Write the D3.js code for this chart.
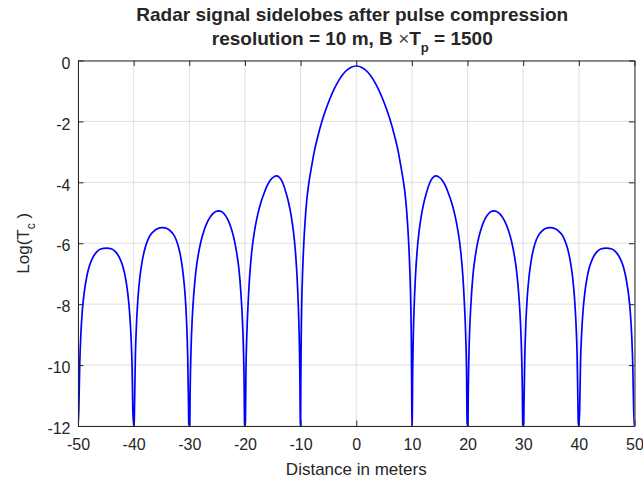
<!DOCTYPE html>
<html lang="en">
	<head>
		<meta charset="utf-8">
		<title>Radar signal sidelobes</title>
		<script src="https://d3js.org/d3.v7.min.js"></script>
		<style type="text/css">
			body {
				margin: 0;
				background: #ffffff;
			}
			text {
				font-family: 'Liberation Sans', Arial, sans-serif;
				fill: #262626;
			}
			.axis path, .axis line {
				stroke: #262626;
			}
			.grid line {
				stroke: #dfdfdf;
				stroke-width: 1;
			}
		</style>
	</head>
	<body>
		<script type="text/javascript">

			//Width and height
			var w = 643;
			var h = 483;
			var plot = {left: 78, right: 634.5, top: 60.5, bottom: 426};

			//tick values
			var xTicks = [-50, -40, -30, -20, -10, 0, 10, 20, 30, 40, 50];
			var yTicks = [-12, -10, -8, -6, -4, -2, 0];

			//distance in meters
			var distance = [
				-50, -49.85, -49.69, -49.49, -49.24, -48.88, -48.47, -47.96, -47.45, -46.94, -46.43, -45.92, -44.9, -43.92, -43.43, -42.94, -42.45, -41.96, -41.47, -41.08, -40.74, -40.49, -40.29, -40.15, -40,
				-39.9, -39.84, -39.69, -39.48, -39.22, -38.86, -38.44, -37.92, -37.4, -36.88, -36.36, -35.84, -34.8, -33.84, -33.36, -32.88, -32.4, -31.92, -31.44, -31.06, -30.72, -30.48, -30.29, -30.14, -30.1, -30,
				-29.92, -29.84, -29.68, -29.47, -29.2, -28.83, -28.41, -27.88, -27.35, -26.82, -26.29, -25.76, -25.23, -24.7, -24.23, -23.76, -23.29, -22.82, -22.35, -21.88, -21.41, -21.03, -20.71, -20.47, -20.28, -20.14, -20.07, -20,
				-19.91, -19.83, -19.66, -19.43, -19.15, -18.75, -18.29, -17.72, -17.15, -16.58, -16.01, -15.44, -14.87, -14.3, -13.87, -13.44, -13.01, -12.58, -12.15, -11.72, -11.29, -10.95, -10.65, -10.43, -10.26, -10.13, -10.06, -10,
				-9.96, -9.9, -9.8, -9.65, -9.45, -9.2, -8.9, -8.5, -8, -7.5, -7, -6, -5, -4, -3, -2, -1,
				0, 1, 2, 3, 4, 5, 6, 7, 7.5, 8, 8.5, 8.9, 9.2, 9.45, 9.65, 9.8, 9.9, 9.96, 10,
				10.06, 10.13, 10.26, 10.43, 10.65, 10.95, 11.29, 11.72, 12.15, 12.58, 13.01, 13.44, 13.87, 14.3, 14.87, 15.44, 16.01, 16.58, 17.15, 17.72, 18.29, 18.75, 19.15, 19.43, 19.66, 19.83, 19.91, 20,
				20.07, 20.14, 20.28, 20.47, 20.71, 21.03, 21.41, 21.88, 22.35, 22.82, 23.29, 23.76, 24.23, 24.7, 25.23, 25.76, 26.29, 26.82, 27.35, 27.88, 28.41, 28.83, 29.2, 29.47, 29.68, 29.84, 29.92, 30,
				30.1, 30.14, 30.29, 30.48, 30.72, 31.06, 31.44, 31.92, 32.4, 32.88, 33.36, 33.84, 34.8, 35.84, 36.36, 36.88, 37.4, 37.92, 38.44, 38.86, 39.22, 39.48, 39.69, 39.84, 39.9, 40,
				40.15, 40.29, 40.49, 40.74, 41.08, 41.47, 41.96, 42.45, 42.94, 43.43, 43.92, 44.9, 45.92, 46.43, 46.94, 47.45, 47.96, 48.47, 48.88, 49.24, 49.49, 49.69, 49.85, 50
			];

			//Log(Tc) at each distance
			var logTc = [
				-12, -11.45, -10.0, -9.0, -8.25, -7.61, -7.14, -6.75, -6.51, -6.35, -6.25, -6.19, -6.16, -6.19, -6.25, -6.35, -6.51, -6.75, -7.14, -7.61, -8.25, -9.0, -10.0, -11.45, -12,
				-11.9, -11.31, -9.71, -8.61, -7.79, -7.08, -6.56, -6.14, -5.87, -5.70, -5.60, -5.53, -5.49, -5.53, -5.60, -5.70, -5.87, -6.14, -6.56, -7.08, -7.79, -8.61, -9.71, -11.31, -11.9, -12,
				-11.95, -10.74, -9.43, -8.46, -7.68, -6.94, -6.40, -5.92, -5.58, -5.33, -5.15, -5.03, -4.96, -4.94, -4.96, -5.03, -5.15, -5.33, -5.58, -5.92, -6.40, -6.94, -7.68, -8.46, -9.43, -10.74, -11.95, -12,
				-11.85, -10.36, -8.99, -7.96, -7.06, -6.23, -5.61, -5.07, -4.67, -4.37, -4.11, -3.93, -3.83, -3.79, -3.83, -3.93, -4.11, -4.37, -4.67, -5.07, -5.61, -6.23, -7.06, -7.96, -8.99, -10.36, -11.85, -12,
				-10.6, -9.2, -8.0, -7.0, -6.1, -5.3, -4.6, -4.0, -3.45, -2.95, -2.56, -1.9, -1.38, -0.95, -0.61, -0.37, -0.23,
				-0.18, -0.23, -0.37, -0.61, -0.95, -1.38, -1.9, -2.56, -2.95, -3.45, -4.0, -4.6, -5.3, -6.1, -7.0, -8.0, -9.2, -10.6, -12,
				-11.85, -10.36, -8.99, -7.96, -7.06, -6.23, -5.61, -5.07, -4.67, -4.37, -4.11, -3.93, -3.83, -3.79, -3.83, -3.93, -4.11, -4.37, -4.67, -5.07, -5.61, -6.23, -7.06, -7.96, -8.99, -10.36, -11.85, -12,
				-11.95, -10.74, -9.43, -8.46, -7.68, -6.94, -6.40, -5.92, -5.58, -5.33, -5.15, -5.03, -4.96, -4.94, -4.96, -5.03, -5.15, -5.33, -5.58, -5.92, -6.40, -6.94, -7.68, -8.46, -9.43, -10.74, -11.95, -12,
				-11.9, -11.31, -9.71, -8.61, -7.79, -7.08, -6.56, -6.14, -5.87, -5.70, -5.60, -5.53, -5.49, -5.53, -5.60, -5.70, -5.87, -6.14, -6.56, -7.08, -7.79, -8.61, -9.71, -11.31, -11.9, -12,
				-11.45, -10.0, -9.0, -8.25, -7.61, -7.14, -6.75, -6.51, -6.35, -6.25, -6.19, -6.16, -6.19, -6.25, -6.35, -6.51, -6.75, -7.14, -7.61, -8.25, -9.0, -10.0, -11.45, -12
			];

			var points = distance.map(function(d, i) {
				return [d, logTc[i]];
			});

			var xScale = d3.scaleLinear()
							.domain([-50, 50])
							.range([plot.left, plot.right]);

			var yScale = d3.scaleLinear()
							.domain([-12, 0])
							.range([plot.bottom, plot.top]);

			//Create SVG element
			var svg = d3.select("body")
						.append("svg")
						.attr("width", w)
						.attr("height", h);

			//grid lines
			var grid = svg.append("g").attr("class", "grid");
			grid.selectAll(".gx")
				.data(xTicks)
				.enter()
				.append("line")
				.attr("x1", function(d) { return xScale(d); })
				.attr("x2", function(d) { return xScale(d); })
				.attr("y1", plot.top)
				.attr("y2", plot.bottom);
			grid.selectAll(".gy")
				.data(yTicks)
				.enter()
				.append("line")
				.attr("x1", plot.left)
				.attr("x2", plot.right)
				.attr("y1", function(d) { return yScale(d); })
				.attr("y2", function(d) { return yScale(d); });

			svg.append("clipPath")
				.attr("id", "clip")
				.append("rect")
				.attr("x", plot.left)
				.attr("y", plot.top - 1)
				.attr("width", plot.right - plot.left)
				.attr("height", plot.bottom - plot.top + 1);

			//the curve
			var line = d3.line()
						.x(function(d) { return xScale(d[0]); })
						.y(function(d) { return yScale(d[1]); })
						.curve(d3.curveMonotoneX);

			svg.append("path")
				.datum(points)
				.attr("clip-path", "url(#clip)")
				.attr("fill", "none")
				.attr("stroke", "#0000ff")
				.attr("stroke-width", 1.7)
				.attr("stroke-linejoin", "round")
				.attr("d", line);

			//axes, ticks pointing in, plain hyphen for minus
			var tick = 5.5;
			var fmt = function(d) { return String(d); };
			var xAxis = d3.axisBottom(xScale).tickValues(xTicks).tickSizeInner(-tick).tickSizeOuter(0).tickPadding(13).tickFormat(fmt);
			var yAxis = d3.axisLeft(yScale).tickValues(yTicks).tickSizeInner(-tick).tickSizeOuter(0).tickPadding(7.5).tickFormat(fmt);
			var xTop = d3.axisTop(xScale).tickValues(xTicks).tickSizeInner(-tick).tickSizeOuter(0).tickFormat("");
			var yRight = d3.axisRight(yScale).tickValues(yTicks).tickSizeInner(-tick).tickSizeOuter(0).tickFormat("");

			svg.append("g").attr("class", "axis")
				.attr("transform", "translate(0," + plot.bottom + ")")
				.call(xAxis);
			var gy = svg.append("g").attr("class", "axis")
				.attr("transform", "translate(" + plot.left + ",0)")
				.call(yAxis);
			svg.append("g").attr("class", "axis")
				.attr("transform", "translate(0," + plot.top + ")")
				.call(xTop);
			svg.append("g").attr("class", "axis")
				.attr("transform", "translate(" + plot.right + ",0)")
				.call(yRight);

			svg.selectAll(".axis text")
				.style("font-size", "16px")
				.style("font-family", "'Liberation Sans', Arial, sans-serif")
				.attr("fill", "#262626");
			gy.selectAll("text").attr("dy", "0.48em");

			//title
			var cx = (plot.left + plot.right) / 2;
			svg.append("text")
				.attr("x", cx - 4)
				.attr("y", 21)
				.attr("text-anchor", "middle")
				.style("font-size", "19px")
				.style("font-weight", "bold")
				.attr("fill", "#000")
				.text("Radar signal sidelobes after pulse compression");

			var t2 = svg.append("text")
				.attr("x", cx - 4)
				.attr("y", 45)
				.attr("text-anchor", "middle")
				.style("font-size", "19px")
				.style("font-weight", "bold")
				.attr("fill", "#000");
			t2.append("tspan").text("resolution = 10 m, B ");
			t2.append("tspan").style("font-weight", "normal").attr("fill", "#444").text("\u00d7");
			t2.append("tspan").text("T");
			t2.append("tspan").attr("dy", 7).style("font-size", "13px").text("p");
			t2.append("tspan").attr("dy", -7).text(" = 1500");

			//axis labels
			svg.append("text")
				.attr("x", cx)
				.attr("y", 475)
				.attr("text-anchor", "middle")
				.style("font-size", "17px")
				.text("Distance in meters");

			var yl = svg.append("text")
				.attr("transform", "translate(29," + ((plot.top + plot.bottom) / 2) + ") rotate(-90)")
				.attr("text-anchor", "middle")
				.style("font-size", "17px");
			yl.append("tspan").text("Log(T");
			yl.append("tspan").attr("dy", 6).style("font-size", "12px").text("c");
			yl.append("tspan").attr("dy", -6).text(" )");
		</script>
	</body>
</html>
